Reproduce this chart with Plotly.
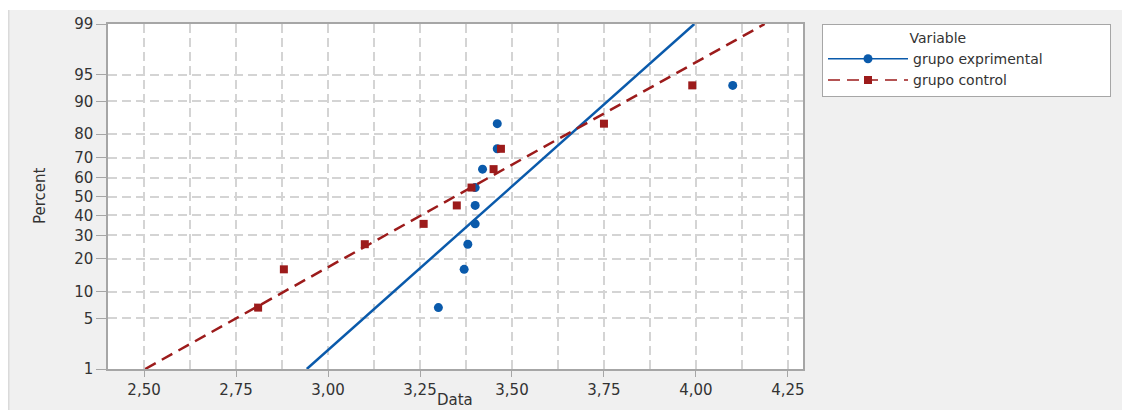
import plotly.graph_objects as go
from statistics import NormalDist, mean, stdev

# ---- data ----
exp_data = [3.30, 3.37, 3.38, 3.40, 3.40, 3.40, 3.42, 3.46, 3.46, 4.10]
ctrl_data = [2.81, 2.88, 3.10, 3.26, 3.35, 3.39, 3.45, 3.47, 3.75, 3.99]
percent_rank = [6.7, 16.3, 26.0, 35.6, 45.2, 54.8, 64.4, 74.0, 83.7, 93.3]
y_tick_percents = [1, 5, 10, 20, 30, 40, 50, 60, 70, 80, 90, 95, 99]
series_names = ["grupo exprimental", "grupo control"]

nd = NormalDist()
z = lambda p: nd.inv_cdf(p / 100.0)

BLUE = "#0a5aab"
RED = "#9c1b1b"
FONT = "DejaVu Sans"
TXT = "#333333"

OFF = 8  # page body margin
W, H = 1130 - OFF, 410 - OFF
# plot area in screen pixels: x 108..803, y 24..369
L, R, T, B = 108 - OFF, 1130 - 803, 24 - OFF, 410 - 369
pw, ph = W - L - R, H - T - B


def px_x(sx):
    return (sx - OFF - L) / pw


def px_y(sy):
    return (H - B - (sy - OFF)) / ph


fig = go.Figure()

zlo, zhi = z(1), z(99)
PAD = "\u00a0" * 14  # widens the legend box like the reference
for data, color, dash, sym, name, msize in [
    (exp_data, BLUE, "solid", "circle", series_names[0] + PAD, 9),
    (ctrl_data, RED, "12px,7px", "square", series_names[1], 8),
]:
    m, s = mean(data), stdev(data)
    # fitted normal line
    fig.add_trace(go.Scatter(
        x=[m + s * zlo, m + s * zhi], y=[zlo, zhi], mode="lines",
        line=dict(color=color, width=2.5, dash=dash),
        showlegend=False, hoverinfo="skip"))
    # points
    fig.add_trace(go.Scatter(
        x=data, y=[z(p) for p in percent_rank], mode="markers",
        marker=dict(color=color, size=msize, symbol=sym),
        showlegend=False))
    # legend entry
    fig.add_trace(go.Scatter(
        x=[None], y=[None], mode="lines+markers", name=name,
        line=dict(color=color, width=1.5, dash=dash),
        marker=dict(color=color, size=msize, symbol=sym)))

GRID = "#d4d4d4"
AX = "#a6a6a6"

fig.update_layout(
    width=W, height=H,
    margin=dict(l=L, r=R, t=T, b=B, autoexpand=False),
    paper_bgcolor="#f0f0f0",
    plot_bgcolor="white",
    separators=", ",
    font=dict(family=FONT, size=14, color=TXT),
    xaxis=dict(
        range=[2.402, 4.291], tick0=2.5, dtick=0.25, tickformat=".2f",
        showgrid=True, gridcolor=GRID, gridwidth=1.5, griddash="9px,5px",
        minor=dict(dtick=0.125, tick0=2.5, showgrid=True, gridcolor=GRID,
                   gridwidth=1.5, griddash="9px,5px"),
        ticks="outside", ticklen=6, tickcolor=AX,
        showline=True, linecolor=AX, linewidth=1.5, mirror=True,
        zeroline=False, tickfont=dict(size=15, color=TXT),
    ),
    yaxis=dict(
        range=[zlo, zhi], tickvals=[z(p) for p in y_tick_percents],
        ticktext=[str(p) for p in y_tick_percents],
        showgrid=True, gridcolor=GRID, gridwidth=1.5, griddash="9px,5px",
        ticks="outside", ticklen=10, tickcolor=AX,
        showline=True, linecolor=AX, linewidth=1.5, mirror=True,
        zeroline=False, tickfont=dict(size=15, color=TXT),
    ),
    legend=dict(
        x=px_x(822), y=px_y(24), xanchor="left", yanchor="top",
        bgcolor="white", bordercolor=AX, borderwidth=1,
        itemwidth=80, tracegroupgap=0,
        font=dict(family=FONT, size=14, color=TXT),
        title=dict(text="\u00a0" * 19 + "Variable", side="top",
                   font=dict(family=FONT, size=14, color=TXT)),
    ),
    shapes=[
        # white strip at the very top (reference panel begins 2px lower)
        dict(type="rect", xref="paper", yref="paper",
             x0=px_x(0), x1=px_x(1135), y0=px_y(10), y1=px_y(0),
             fillcolor="white", line_width=0, layer="below"),
        # thin darker edge on the left of the panel
        dict(type="rect", xref="paper", yref="paper",
             x0=px_x(8), x1=px_x(9.5), y0=px_y(415), y1=px_y(10),
             fillcolor="#dadada", line_width=0, layer="below"),
    ],
    annotations=[
        dict(text="Percent", xref="paper", yref="paper", x=px_x(40), y=px_y(196),
             xanchor="center", yanchor="middle",
             textangle=-90, showarrow=False, font=dict(size=15, color=TXT)),
        dict(text="Data", xref="paper", yref="paper", x=px_x(455), y=px_y(400),
             xanchor="center", yanchor="middle",
             showarrow=False, font=dict(size=15, color=TXT)),
    ],
)

fig.write_html("out.html")
